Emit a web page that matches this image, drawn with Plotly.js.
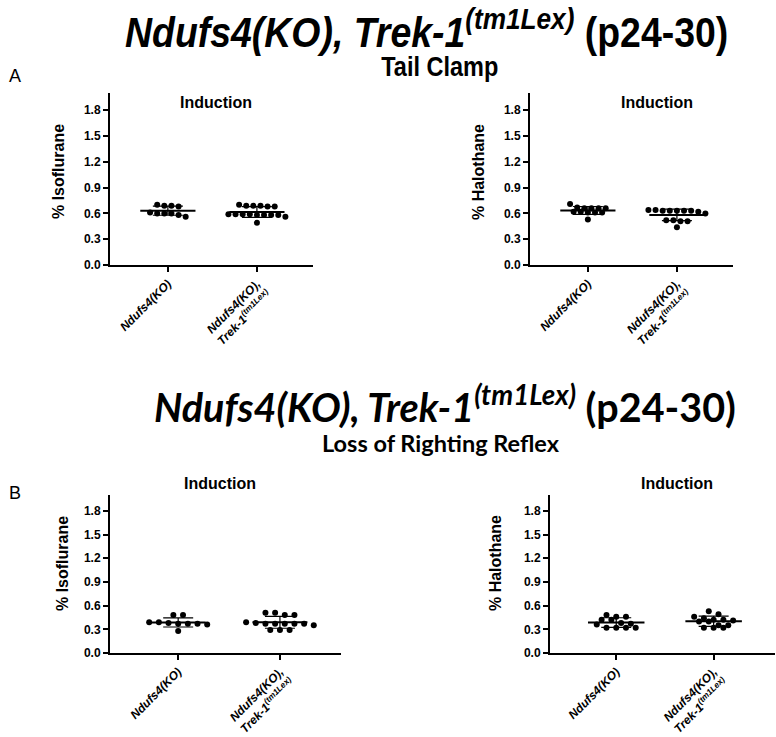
<!DOCTYPE html>
<html>
<head>
<meta charset="utf-8">
<script src="https://cdn.plot.ly/plotly-3.0.1.min.js"></script>
<style>html,body{margin:0;padding:0;background:#fff;}#chart{width:776px;height:737px;}
.squeeze{transform-box:fill-box;transform-origin:center;}
</style>
</head>
<body>
<div id="chart"></div>
<script>
// ---- data ----
const categories = ['Ndufs4(KO)', 'Ndufs4(KO), Trek-1(tm1Lex)'];
const tickLabels = ['<b><i>Ndufs4(KO)</i></b>', '<b><i>Ndufs4(KO),<br>Trek-1<sup>(tm1Lex)</sup></i></b>'];
const yTicks = [0.0, 0.3, 0.6, 0.9, 1.2, 1.5, 1.8];

// A: Tail clamp, induction
const tailIsoKO  = [0.58, 0.68, 0.60, 0.69, 0.61, 0.60, 0.69, 0.70, 0.56, 0.60];
const tailIsoDKO = [0.69, 0.68, 0.68, 0.69, 0.69, 0.70, 0.59, 0.59, 0.58, 0.56, 0.59, 0.58, 0.59, 0.58, 0.58, 0.49];
const tailHalKO  = [0.66, 0.66, 0.71, 0.67, 0.66, 0.66, 0.62, 0.61, 0.62, 0.61, 0.61, 0.53];
const tailHalDKO = [0.63, 0.63, 0.64, 0.63, 0.63, 0.63, 0.64, 0.62, 0.60, 0.51, 0.52, 0.51, 0.52, 0.44];
// B: Loss of righting reflex, induction
const lorrIsoKO  = [0.39, 0.37, 0.39, 0.48, 0.37, 0.48, 0.38, 0.37, 0.36, 0.28];
const lorrIsoDKO = [0.39, 0.35, 0.48, 0.48, 0.51, 0.51, 0.37, 0.37, 0.38, 0.37, 0.37, 0.37, 0.29, 0.29, 0.29];
const lorrHalKO  = [0.42, 0.32, 0.46, 0.37, 0.46, 0.32, 0.48, 0.36, 0.32, 0.42, 0.32, 0.38];
const lorrHalDKO = [0.42, 0.46, 0.32, 0.53, 0.35, 0.40, 0.32, 0.49, 0.35, 0.42, 0.32, 0.40, 0.41, 0.44];

const panels = [
  {groups: [tailIsoKO, tailIsoDKO], xa: 'x',  ya: 'y',  ylabel: '% Isoflurane', step: 0.08, half: 0.31},
  {groups: [tailHalKO, tailHalDKO], xa: 'x2', ya: 'y2', ylabel: '% Halothane',  step: 0.08, half: 0.31},
  {groups: [lorrIsoKO, lorrIsoDKO], xa: 'x3', ya: 'y3', ylabel: '% Isoflurane', step: 0.095, half: 0.27},
  {groups: [lorrHalKO, lorrHalDKO], xa: 'x4', ya: 'y4', ylabel: '% Halothane',  step: 0.1, half: 0.29}
];

// ---- helpers ----
function mean(a){ return a.reduce((s,v)=>s+v,0)/a.length; }
function sd(a){ const m=mean(a); return Math.sqrt(a.reduce((s,v)=>s+(v-m)*(v-m),0)/(a.length-1)); }
// simple row-based scatter-dot arrangement (GraphPad-like)
function swarm(vals, center, step, tol){
  const sorted = vals.slice().sort((a,b)=>b-a);
  const rows = [];
  sorted.forEach(v=>{
    const r = rows.find(r=>Math.abs(r[0]-v) <= tol);
    if (r) r.push(v); else rows.push([v]);
  });
  const xs=[], ys=[];
  rows.forEach(r=>{
    const n=r.length;
    r.forEach((v,i)=>{ xs.push(center + (i-(n-1)/2)*step); ys.push(v); });
  });
  return {xs, ys};
}

const traces = [];
panels.forEach(p=>{
  p.groups.forEach((g,gi)=>{
    const s = swarm(g, gi, p.step, 0.0505);
    traces.push({type:'scatter', mode:'markers', x:s.xs, y:s.ys, xaxis:p.xa, yaxis:p.ya,
      marker:{color:'#000', size:6}, hoverinfo:'y', cliponaxis:false});
    const m = mean(g), d = sd(g);
    traces.push({type:'scatter', mode:'lines', x:[gi-p.half, gi+p.half], y:[m,m], xaxis:p.xa, yaxis:p.ya,
      line:{color:'#000', width:2}, hoverinfo:'skip'});
    traces.push({type:'scatter', mode:'markers', x:[gi], y:[m], xaxis:p.xa, yaxis:p.ya,
      marker:{size:1, color:'rgba(0,0,0,0)'},
      error_y:{type:'data', array:[d], visible:true, color:'#000', thickness:1.2, width:15}, hoverinfo:'skip'});
  });
});

const tickFont = {family:'Liberation Sans, Arial, sans-serif', size:12, color:'#000', weight:'bold'};
function xax(domain, range){
  return {domain:domain, range:range, tickmode:'array', tickvals:[0,1], ticktext:tickLabels,
    tickangle:-45, showline:true, linewidth:2, linecolor:'#000', ticks:'outside', ticklen:5, tickwidth:2,
    tickcolor:'#000', showgrid:false, zeroline:false, tickfont:{family:'Liberation Sans, Arial, sans-serif', size:12, color:'#000'}, fixedrange:true};
}
function yax(domain, anchor){
  return {domain:domain, anchor:anchor, range:[0,2.0], tickmode:'array', tickvals:yTicks,
    ticktext:yTicks.map(v=>v.toFixed(1)), showline:true, linewidth:2, linecolor:'#000',
    ticks:'outside', ticklen:5, tickwidth:2, tickcolor:'#000', showgrid:false, zeroline:false,
    tickfont:tickFont, fixedrange:true};
}
const W=776, H=737;
const px = v=>v/W, py = v=>1-v/H;

const ann = [];
function txt(x,y,text,font,extra){ ann.push(Object.assign({xref:'paper', yref:'paper', x:px(x), y:py(y), text:text, showarrow:false, xanchor:'center', yanchor:'middle', font:font}, extra||{})); }
const arial = 'Liberation Sans, Arial, sans-serif';
const sans = 'Lato, Open Sans, sans-serif';
txt(426, 29, '<b><i>Ndufs4(KO), Trek-1<sup>(tm1Lex)</sup></i> (p24-30)</b>', {family:arial, size:43, color:'#000'});
txt(440, 66, '<b>Tail Clamp</b>', {family:arial, size:28, color:'#000'});
txt(15, 76, 'A', {family:arial, size:18, color:'#000'});
txt(445, 404, '<b><i>Ndufs4(KO), Trek-1<sup>(tm1Lex)</sup></i> (p24-30)</b>', {family:sans, size:39.5, color:'#000'});
txt(441, 443, '<b>Loss of Righting Reflex</b>', {family:sans, size:23.5, color:'#000'});
txt(15, 493, 'B', {family:arial, size:18, color:'#000'});
const indF = {family:arial, size:16, color:'#000'};
txt(216, 102, '<b>Induction</b>', indF);
txt(657, 102, '<b>Induction</b>', indF);
txt(220, 483, '<b>Induction</b>', indF);
txt(677, 483, '<b>Induction</b>', indF);
const yF = {family:arial, size:16, color:'#000'};
txt(58, 172, '<b>'+panels[0].ylabel+'</b>', yF, {textangle:-90});
txt(478, 172, '<b>'+panels[1].ylabel+'</b>', yF, {textangle:-90});
txt(62, 563, '<b>'+panels[2].ylabel+'</b>', yF, {textangle:-90});
txt(495, 563, '<b>'+panels[3].ylabel+'</b>', yF, {textangle:-90});

const layout = {
  width:W, height:H, margin:{l:0,r:0,t:0,b:0}, showlegend:false,
  paper_bgcolor:'#fff', plot_bgcolor:'#fff',
  xaxis:  Object.assign(xax([px(110), px(313)], [-0.65, 1.63]), {anchor:'y'}),
  yaxis:  yax([py(265), py(93)], 'x'),
  xaxis2: Object.assign(xax([px(530), px(733)], [-0.65, 1.63]), {anchor:'y2'}),
  yaxis2: yax([py(265), py(93)], 'x2'),
  xaxis3: Object.assign(xax([px(110), px(341)], [-0.67, 1.6]), {anchor:'y3'}),
  yaxis3: yax([py(653), py(495)], 'x3'),
  xaxis4: Object.assign(xax([px(550), px(775)], [-0.68, 1.63]), {anchor:'y4'}),
  yaxis4: yax([py(653), py(495)], 'x4'),
  annotations: ann
};
Plotly.newPlot('chart', traces, layout, {displayModeBar:false, staticPlot:true}).then(()=>{
  // horizontally condense the narrow-font headings of panel A (reference uses a condensed face)
  const squeeze = {0:0.87, 1:0.84};
  document.querySelectorAll('.annotation').forEach((g,i)=>{
    if (squeeze[i]) {
      const t = g.querySelector('text');
      if (t) { t.classList.add('squeeze'); t.style.transform = 'scaleX('+squeeze[i]+')'; }
    }
  });
});
</script>
</body>
</html>
